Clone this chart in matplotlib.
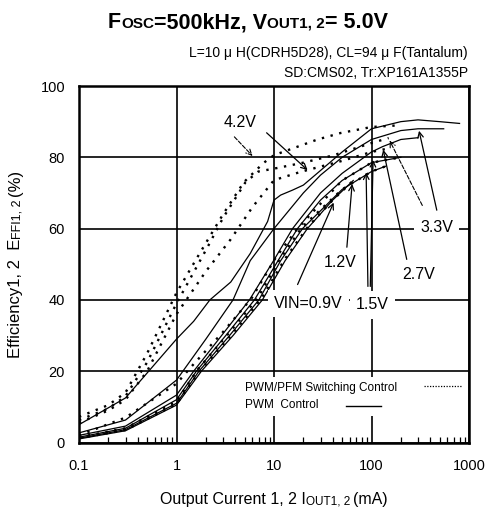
import matplotlib
matplotlib.use('Agg')
import matplotlib.pyplot as plt
import numpy as np
from matplotlib.ticker import FixedLocator, LogLocator, NullFormatter

plt.rcParams['font.family'] = ['Liberation Sans', 'DejaVu Sans']

# PWM control (solid)
pwm_42_i = [0.1, 0.3, 1, 1.5, 2.2, 3.6, 5.7, 8.6, 10, 11.7, 15.5, 20, 28, 38, 50, 100, 200, 300, 500, 800]
pwm_42_e = [5, 12.5, 29, 34, 40, 45, 53, 62, 68, 69.4, 70.8, 72.2, 75.6, 78.7, 81.5, 88, 90, 90.5, 90, 89.5]
pwm_33_i = [0.1, 0.3, 1, 2, 3.8, 5.7, 10, 20, 30, 50, 100, 200, 300, 550]
pwm_33_e = [2.7, 6.3, 17.5, 29, 40, 51, 60, 70, 75, 80, 85, 87.5, 88, 88]
pwm_27_i = [0.1, 0.3, 1, 1.5, 2.9, 5.6, 9.9, 15.5, 30, 50, 100, 130, 200, 300]
pwm_27_e = [2, 4.6, 13.3, 20, 30, 40, 51, 60, 70, 75.5, 81.5, 83, 85, 85.5]
pwm_15_i = [0.1, 0.3, 1, 1.6, 3.2, 6.3, 11, 17.4, 30, 50, 100, 200]
pwm_15_e = [1.5, 4, 12, 20, 30, 40, 51, 60, 68, 73.5, 78.5, 80]
pwm_12_i = [0.1, 0.3, 1, 1.7, 3.5, 7.0, 11.7, 19.6, 50, 100, 140]
pwm_12_e = [1.2, 3.6, 11, 20, 30, 40, 51, 60, 71, 76, 77.5]
pwm_09_i = [0.1, 0.3, 1, 1.8, 3.8, 7.6, 13, 22, 40, 65]
pwm_09_e = [1, 3.3, 10.5, 20, 30, 40, 51, 60, 68, 73.5]

# PWM/PFM switching control (dotted)
pfm_42_i = [0.1, 0.2, 0.3, 0.5, 1, 1.64, 3, 4.9, 7.8, 10, 28, 48, 100, 200]
pfm_42_e = [7.2, 10.5, 14, 25, 42, 52, 64, 73, 78.4, 80.6, 85, 86.8, 88.5, 89]
pfm_33_i = [0.1, 0.2, 0.3, 0.5, 1, 2.1, 3, 5.1, 6.9, 10.8, 20, 40, 100, 150]
pfm_33_e = [6.3, 9.5, 13, 22.5, 39, 55, 63, 73, 76, 77, 78.5, 80.5, 84, 85.4]
pfm_27_i = [0.1, 0.2, 0.3, 0.5, 1, 2, 3.6, 6, 10, 18.7, 50, 100, 150]
pfm_27_e = [5.5, 9, 12, 20, 36, 48, 57, 66, 73.6, 75.9, 79, 81.5, 82.5]
pfm_15_i = [0.1, 0.3, 1, 1.5, 3, 5.9, 10.5, 17.4, 50, 100, 200]
pfm_15_e = [2, 7, 16.5, 22, 31, 40.5, 52, 60, 73.5, 78.5, 80]
pfm_12_i = [0.1, 0.3, 1, 1.65, 3.4, 6.8, 11.5, 19.5, 50, 100, 140]
pfm_12_e = [1.5, 4, 11.5, 20.5, 30.5, 40.5, 51.5, 60.5, 71, 76, 77.5]
pfm_09_i = [0.1, 0.3, 1, 1.75, 3.7, 7.4, 12.8, 22, 40, 65]
pfm_09_e = [1.2, 3.5, 10.8, 20.3, 30.3, 40.3, 51.3, 60.3, 68, 73.5]

pwm_curves = [(pwm_42_i, pwm_42_e), (pwm_33_i, pwm_33_e), (pwm_27_i, pwm_27_e),
              (pwm_15_i, pwm_15_e), (pwm_12_i, pwm_12_e), (pwm_09_i, pwm_09_e)]
pfm_curves = [(pfm_42_i, pfm_42_e), (pfm_33_i, pfm_33_e), (pfm_27_i, pfm_27_e),
              (pfm_15_i, pfm_15_e), (pfm_12_i, pfm_12_e), (pfm_09_i, pfm_09_e)]

W, H = 488, 512
fig = plt.figure(figsize=(W / 100, H / 100), dpi=100)
ax = fig.add_axes([79 / W, 1 - 442.5 / H, 390 / W, 356.5 / H])

for xs, ys in pwm_curves:
    ax.plot(xs, ys, color='black', lw=0.9)
for xs, ys in pfm_curves:
    ax.plot(xs, ys, color='black', lw=1.7, linestyle=(0, (1.0, 2.8)))

ax.set_xscale('log')
ax.set_xlim(0.1, 1000)
ax.set_ylim(0, 100)
ax.xaxis.set_major_locator(FixedLocator([0.1, 1, 10, 100, 1000]))
ax.set_xticklabels(['0.1', '1', '10', '100', '1000'])
ax.xaxis.set_minor_locator(LogLocator(base=10, subs=np.arange(2, 10)))
ax.xaxis.set_minor_formatter(NullFormatter())
ax.set_yticks([0, 20, 40, 60, 80, 100])
ax.grid(True, which='major', color='black', lw=1.2)
ax.tick_params(axis='x', which='major', length=0, pad=12, labelsize=10.5)
ax.tick_params(axis='x', which='minor', direction='in', length=4, width=0.9)
ax.tick_params(axis='y', length=0, pad=10, labelsize=10.5)
for sp in ax.spines.values():
    sp.set_linewidth(1.8)

box = dict(boxstyle='square,pad=0.4', fc='white', ec='none')
lab = dict(fontsize=11.5, ha='center', va='center', zorder=5)
solid = dict(arrowstyle='->', lw=0.9, color='black')
dashed = dict(arrowstyle='->', lw=0.8, linestyle='--', color='black')

# 4.2V
ax.text(4.5, 89.9, '4.2V', **lab)
ax.annotate('', xy=(6.3, 79.8), xytext=(3.75, 86.3), arrowprops=dashed)
ax.annotate('', xy=(23.2, 75.9), xytext=(8.0, 87.4), arrowprops=solid)
# 3.3V
ax.text(464, 60.2, '3.3V', bbox=box, **lab)
ax.annotate('', xy=(303, 88.2), xytext=(474, 64.4), arrowprops=solid)
ax.annotate('', xy=(149, 85.4), xytext=(342, 65.8), arrowprops=dashed)
# 2.7V
ax.text(303, 47, '2.7V', **lab)
ax.annotate('', xy=(130, 82.9), xytext=(233, 50.6), arrowprops=solid)
# 1.5V
ax.annotate('', xy=(88, 76.5), xytext=(92, 43), arrowprops=solid)
ax.annotate('', xy=(104, 80), xytext=(97, 43), arrowprops=solid)
# 1.2V
ax.text(48, 50.6, '1.2V', **lab)
ax.annotate('', xy=(63.6, 73.3), xytext=(55.6, 54), arrowprops=solid)
# 0.9V
ax.annotate('', xy=(42, 68), xytext=(17, 43.6), arrowprops=solid)
ax.text(22.6, 39.0, 'VIN=0.9V', bbox=box, **lab)
ax.text(102, 38.6, '1.5V', bbox=box, **lab)

# legend block
leg_bg = plt.Rectangle((0.415, 0.075), 0.555, 0.11, transform=ax.transAxes,
                       fc='white', ec='none', zorder=4)
ax.add_patch(leg_bg)
ax.text(0.425, 0.145, 'PWM/PFM Switching Control', transform=ax.transAxes,
        fontsize=8.5, ha='left', va='baseline', zorder=5)
ax.text(0.425, 0.097, 'PWM  Control', transform=ax.transAxes,
        fontsize=8.5, ha='left', va='baseline', zorder=5)
ax.plot([0.885, 0.98], [0.158, 0.158], transform=ax.transAxes, color='black',
        lw=0.9, linestyle=(0, (1, 1.2)), zorder=5)
ax.plot([0.685, 0.775], [0.103, 0.103], transform=ax.transAxes, color='black',
        lw=1.0, zorder=5)


def mixed_text(x_px, y_px, parts, ha='center', rotation=0, weight='normal'):
    r = fig.canvas.get_renderer()
    items = []
    widths = []
    for s, fs, gap in parts:
        t = fig.text(0, 0, s, fontsize=fs, fontweight=weight, ha='left',
                     va='baseline', rotation_mode='anchor')
        widths.append(gap + t.get_window_extent(r).width)
        t.set_rotation(rotation)
        items.append((t, gap))
    total = sum(widths)
    off = {'center': -total / 2, 'left': 0, 'right': -total}[ha]
    for (t, gap), w in zip(items, widths):
        off += gap
        if rotation == 90:
            t.set_position((x_px / W, 1 - (y_px - off) / H))
        else:
            t.set_position(((x_px + off) / W, 1 - y_px / H))
        off += w - gap


mixed_text(248, 28, [('F', 15.5, 0), ('OSC', 11, 0), ('=500kHz, V', 15.5, 0),
                     ('OUT1, 2', 11, 0), ('= 5.0V', 15.5, 0)], weight='bold')
fig.text(468 / W, 1 - 57 / H, 'L=10 μ H(CDRH5D28), CL=94 μ F(Tantalum)',
         fontsize=10, ha='right', va='baseline')
fig.text(468 / W, 1 - 77 / H, 'SD:CMS02, Tr:XP161A1355P',
         fontsize=10, ha='right', va='baseline')
mixed_text(274, 504, [('Output Current 1, 2 I', 11.5, 0), ('OUT1, 2', 8.5, 0),
                      ('(mA)', 11.5, 3)])
mixed_text(20, 264, [('Efficiency1, 2  E', 12, 0), ('FFI1, 2', 9, 0),
                     ('(%)', 12, 3)], rotation=90)

fig.savefig('out.png', dpi=100)
